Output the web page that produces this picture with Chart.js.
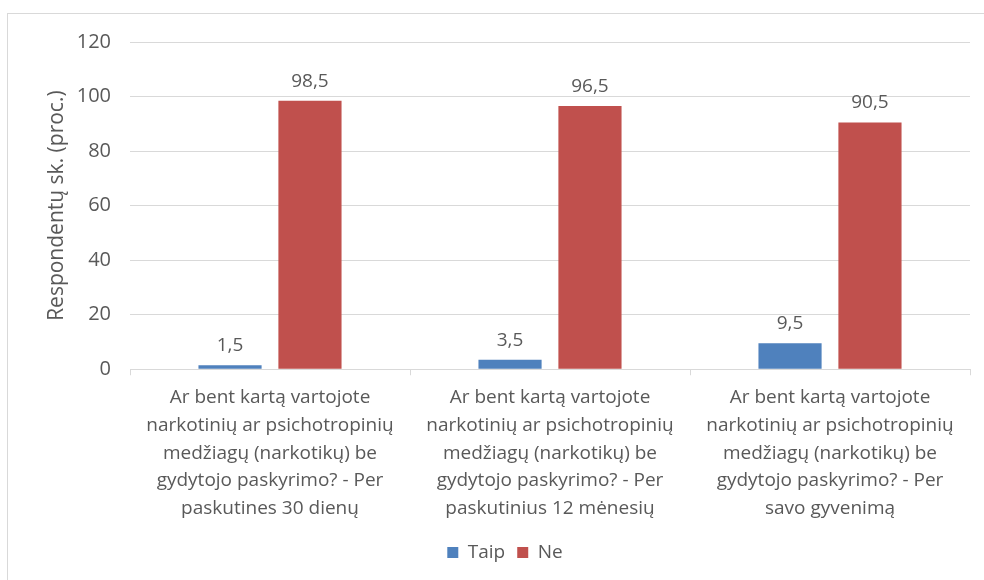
<!DOCTYPE html>
<html>
<head>
<meta charset="utf-8">
<script src="https://cdn.jsdelivr.net/npm/chart.js@4"></script>
<style>
  html, body { margin: 0; padding: 0; background: #fff; overflow: hidden; }
  #wrap { position: relative; width: 984px; height: 580px; }
  #frame { position: absolute; left: 7px; top: 13px; width: 1000px; height: 600px; border: 1px solid #d9d9d9; box-sizing: border-box; }
  canvas { position: absolute; left: 0; top: 0; }
</style>
</head>
<body>
<div id="wrap">
  <div id="frame"></div>
  <canvas id="chart" width="984" height="580"></canvas>
</div>
<script>
const categories = [
  ['Ar bent kartą vartojote', 'narkotinių ar psichotropinių', 'medžiagų (narkotikų) be', 'gydytojo paskyrimo? - Per', 'paskutines 30 dienų'],
  ['Ar bent kartą vartojote', 'narkotinių ar psichotropinių', 'medžiagų (narkotikų) be', 'gydytojo paskyrimo? - Per', 'paskutinius 12 mėnesių'],
  ['Ar bent kartą vartojote', 'narkotinių ar psichotropinių', 'medžiagų (narkotikų) be', 'gydytojo paskyrimo? - Per', 'savo gyvenimą']
];
const taip = [1.5, 3.5, 9.5];
const ne = [98.5, 96.5, 90.5];
const yTicks = [0, 20, 40, 60, 80, 100, 120];

const textColor = '#595959';
const fontFamily = '"Open Sans", "Noto Sans", sans-serif';

// value labels above each bar, decimal comma
const barLabels = {
  id: 'barLabels',
  afterDatasetsDraw(chart) {
    const ctx = chart.ctx;
    ctx.save();
    ctx.fillStyle = textColor;
    ctx.font = '19px ' + fontFamily;
    ctx.textAlign = 'center';
    ctx.textBaseline = 'alphabetic';
    chart.data.datasets.forEach((ds, i) => {
      chart.getDatasetMeta(i).data.forEach((bar, j) => {
        const txt = ds.data[j].toFixed(1).replace('.', ',');
        ctx.fillText(txt, bar.x, bar.y - 14);
      });
    });
    ctx.restore();
  }
};

new Chart(document.getElementById('chart'), {
  type: 'bar',
  data: {
    labels: categories,
    datasets: [
      { label: 'Taip', data: taip, backgroundColor: '#4f81bd' },
      { label: 'Ne', data: ne, backgroundColor: '#c0504d' }
    ]
  },
  options: {
    responsive: false,
    animation: false,
    categoryPercentage: 0.571,
    barPercentage: 0.79,
    layout: { padding: { left: 40, right: 14, top: 42, bottom: 8 } },
    scales: {
      x: {
        // wide wrapped labels should not push the plot area inwards
        afterFit(axis) { axis.paddingLeft = 0; axis.paddingRight = 0; },
        grid: { display: true, drawOnChartArea: false, color: '#d9d9d9', tickLength: 6 },
        border: { color: '#d9d9d9' },
        ticks: { color: textColor, font: { family: fontFamily, size: 19, lineHeight: 1.45 }, maxRotation: 0, autoSkip: false, padding: 9 }
      },
      y: {
        min: 0,
        max: 120,
        afterBuildTicks(axis) { axis.ticks = yTicks.map(v => ({ value: v })); },
        afterFit(axis) { axis.width = 90; },
        grid: { color: '#d9d9d9', drawTicks: false, lineWidth: 1 },
        border: { display: false },
        ticks: { color: textColor, font: { family: fontFamily, size: 20 }, padding: 19 },
        title: { display: true, text: 'Respondentų sk. (proc.)', color: textColor, font: { family: fontFamily, size: 21 }, padding: 4 }
      }
    },
    plugins: {
      legend: {
        position: 'bottom',
        labels: { color: textColor, font: { family: fontFamily, size: 19 }, boxWidth: 11, boxHeight: 11, padding: 12 }
      },
      tooltip: { enabled: false }
    }
  },
  plugins: [barLabels]
});
</script>
</body>
</html>
